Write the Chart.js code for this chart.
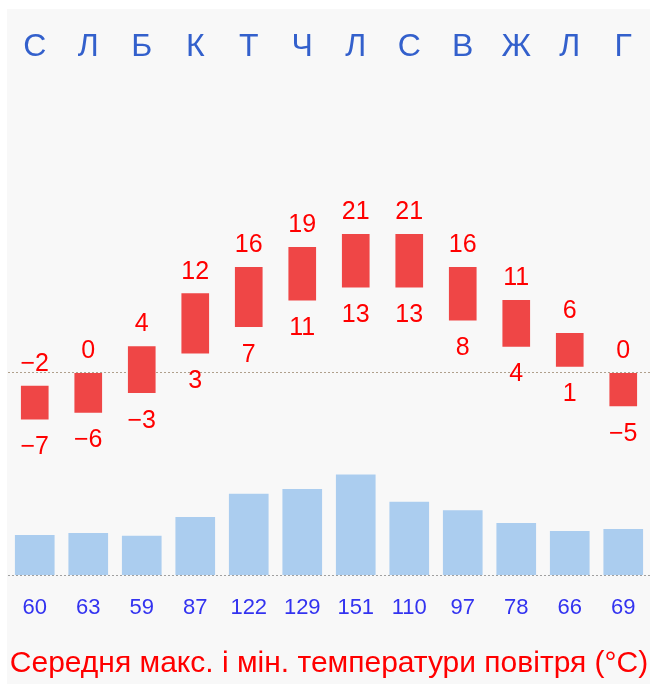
<!DOCTYPE html>
<html lang="uk">
<head>
<meta charset="utf-8">
<script src="https://cdn.jsdelivr.net/npm/chart.js@4"></script>
<style>
html, body { margin: 0; padding: 0; background: #fff; }
#wrap { position: absolute; left: 7px; top: 9px; width: 643px; height: 675px; background: #f8f8f8; }
</style>
</head>
<body>
<div id="wrap"><canvas id="climateChart"></canvas></div>
<script>
// Дані клімату
const months = ["С", "Л", "Б", "К", "Т", "Ч", "Л", "С", "В", "Ж", "Л", "Г"];
const tempMax = [-2, 0, 4, 12, 16, 19, 21, 21, 16, 11, 6, 0];
const tempMin = [-7, -6, -3, 3, 7, 11, 13, 13, 8, 4, 1, -5];
const precip = [60, 63, 59, 87, 122, 129, 151, 110, 97, 78, 66, 69];
const chartTitle = "Середня макс. і мін. температури повітря (°C)";

const FONT = "'Liberation Sans', Arial, sans-serif";

function fmt(v) {
    return v < 0 ? "\u2212" + Math.abs(v) : String(v);
}

// Підписи макс./мін. над і під стовпчиками температури
const tempLabels = {
    id: "tempLabels",
    afterDatasetsDraw(chart) {
        const ctx = chart.ctx;
        const meta = chart.getDatasetMeta(1);
        const yT = chart.scales.yT;
        ctx.save();
        ctx.fillStyle = "#ff0000";
        ctx.font = "25px " + FONT;
        ctx.textAlign = "center";
        ctx.textBaseline = "middle";
        meta.data.forEach(function(bar, i) {
            ctx.fillText(fmt(tempMax[i]), bar.x, yT.getPixelForValue(tempMax[i]) - 22);
            ctx.fillText(fmt(tempMin[i]), bar.x, yT.getPixelForValue(tempMin[i]) + 28);
        });
        ctx.restore();
    }
};

function zeroOnly(scale) {
    scale.ticks = [{ value: 0 }];
}

const ctx = document.getElementById("climateChart").getContext("2d");
new Chart(ctx, {
    type: "bar",
    data: {
        labels: months,
        datasets: [{
            label: "Опади",
            data: precip,
            yAxisID: "yP",
            backgroundColor: "#abcdef",
            barThickness: 39,
            grouped: false
        }, {
            label: "Температура",
            data: months.map((m, i) => [tempMin[i], tempMax[i]]),
            yAxisID: "yT",
            backgroundColor: "#ef4646",
            barThickness: 27,
            grouped: false
        }]
    },
    options: {
        responsive: true,
        maintainAspectRatio: false,
        animation: false,
        layout: { padding: { left: 1, right: 0, top: 0, bottom: 0 } },
        plugins: {
            legend: { display: false },
            tooltip: { enabled: false },
            title: {
                display: true,
                text: chartTitle,
                position: "bottom",
                color: "#ff0000",
                font: { family: FONT, size: 30, weight: "normal" },
                padding: { top: 1, bottom: 2 }
            }
        },
        scales: {
            x: {
                position: "top",
                offset: true,
                grid: { display: false },
                border: { display: false },
                ticks: {
                    color: "#3360cc",
                    font: { family: FONT, size: 32 },
                    padding: 5,
                    autoSkip: false,
                    maxRotation: 0
                },
                afterFit(s) { s.height = 70; }
            },
            x2: {
                type: "category",
                labels: precip.map(String),
                position: "bottom",
                offset: true,
                grid: { display: false },
                border: { display: false },
                ticks: {
                    color: "#3333f0",
                    font: { family: FONT, size: 22 },
                    padding: 10,
                    autoSkip: false,
                    maxRotation: 0
                },
                afterFit(s) { s.height = 68; }
            },
            yT: {
                position: "left",
                min: -30.9,
                max: 44.5,
                ticks: { display: false },
                grid: { color: "#b0a08c", drawTicks: false },
                border: { display: false, dash: [2, 2] },
                afterBuildTicks: zeroOnly,
                afterFit(s) { s.width = 0; }
            },
            yP: {
                position: "right",
                min: -2.7,
                max: 746,
                ticks: { display: false },
                grid: { color: "#a0a0a0", drawTicks: false },
                border: { display: false, dash: [2, 2] },
                afterBuildTicks: zeroOnly,
                afterFit(s) { s.width = 0; }
            }
        }
    },
    plugins: [tempLabels]
});
</script>
</body>
</html>
